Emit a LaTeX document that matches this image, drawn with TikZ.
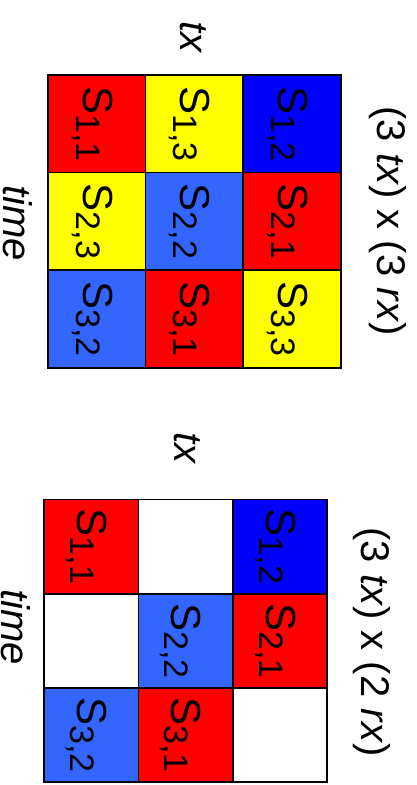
\documentclass[tikz,border=0pt]{standalone}
\usepackage{fontspec}
\setmainfont{Liberation Sans}
\definecolor{cred}{RGB}{255,0,0}
\definecolor{cyel}{RGB}{255,255,0}
\definecolor{cblu}{RGB}{0,0,255}
\definecolor{clbl}{RGB}{51,102,255}
\newcommand\Sij[1]{S\raisebox{-7pt}{\fontsize{34}{34}\selectfont #1}}
\begin{document}
\begin{tikzpicture}[x=1pt,y=-1pt,
  cellA/.style={draw=black,line width=1.5pt,minimum size=97.7pt,inner sep=0pt},
  cellB/.style={draw=black,line width=1.5pt,minimum size=94.3pt,inner sep=0pt},
  stxt/.style={rotate=-90,inner sep=0pt,font=\fontsize{42}{42}\selectfont},
  lab/.style={rotate=-90,inner sep=0pt,font=\fontsize{40}{40}\selectfont}]
\useasboundingbox (0,0) rectangle (416,785);
% top grid
\node[cellA,fill=cred] (a11) at (97,124) {};
\node[cellA,fill=cyel] (a12) at (194.5,124) {};
\node[cellA,fill=cblu] (a13) at (292,124) {};
\node[cellA,fill=cyel] (a21) at (97,221.5) {};
\node[cellA,fill=clbl] (a22) at (194.5,221.5) {};
\node[cellA,fill=cred] (a23) at (292,221.5) {};
\node[cellA,fill=clbl] (a31) at (97,319) {};
\node[cellA,fill=cred] (a32) at (194.5,319) {};
\node[cellA,fill=cyel] (a33) at (292,319) {};
\node[stxt] (ta11) at ([xshift=-5pt]a11.center) {\Sij{1,1}};
\node[stxt] (ta12) at ([xshift=-5pt]a12.center) {\Sij{1,3}};
\node[stxt] (ta13) at ([xshift=-5pt]a13.center) {\Sij{1,2}};
\node[stxt] (ta21) at ([xshift=-5pt]a21.center) {\Sij{2,3}};
\node[stxt] (ta22) at ([xshift=-5pt]a22.center) {\Sij{2,2}};
\node[stxt] (ta23) at ([xshift=-5pt]a23.center) {\Sij{2,1}};
\node[stxt] (ta31) at ([xshift=-5pt]a31.center) {\Sij{3,2}};
\node[stxt] (ta32) at ([xshift=-5pt]a32.center) {\Sij{3,1}};
\node[stxt] (ta33) at ([xshift=-5pt]a33.center) {\Sij{3,3}};
\node[lab] (atx) at (193,37) {\itshape tx};
\node[lab,anchor=south] (atime) at (3,223) {\itshape time};
\node[lab] (adim) at (388,221) {(3 \textit{tx}) x (3 \textit{rx})};
% bottom grid
\node[cellB,fill=cred] (b11) at (91.25,546.5) {};
\node[cellB,fill=white] (b12) at (185.75,546.5) {};
\node[cellB,fill=cblu] (b13) at (280,546.5) {};
\node[cellB,fill=white] (b21) at (91.25,641) {};
\node[cellB,fill=clbl] (b22) at (185.75,641) {};
\node[cellB,fill=cred] (b23) at (280,641) {};
\node[cellB,fill=clbl] (b31) at (91.25,735) {};
\node[cellB,fill=cred] (b32) at (185.75,735) {};
\node[cellB,fill=white] (b33) at (280,735) {};
\node[stxt] (tb11) at ([xshift=-5pt]b11.center) {\Sij{1,1}};
\node[stxt] (tb13) at ([xshift=-5pt]b13.center) {\Sij{1,2}};
\node[stxt] (tb22) at ([xshift=-5pt]b22.center) {\Sij{2,2}};
\node[stxt] (tb23) at ([xshift=-5pt]b23.center) {\Sij{2,1}};
\node[stxt] (tb31) at ([xshift=-5pt]b31.center) {\Sij{3,2}};
\node[stxt] (tb32) at ([xshift=-5pt]b32.center) {\Sij{3,1}};
\node[lab] (btx) at (187,448) {\itshape tx};
\node[lab,anchor=south] (btime) at (1,627) {\itshape time};
\node[lab] (bdim) at (372,642) {(3 \textit{tx}) x (2 \textit{rx})};
\end{tikzpicture}
\end{document}
